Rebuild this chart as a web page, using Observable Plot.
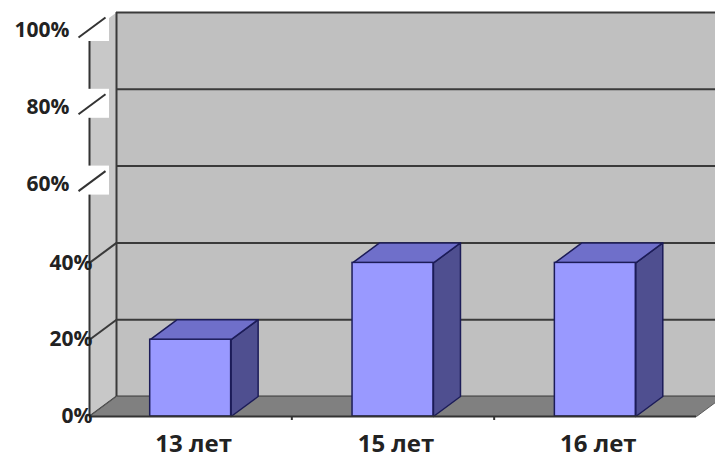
<!DOCTYPE html>
<html>
<head>
<meta charset="utf-8">
<script src="https://cdn.jsdelivr.net/npm/d3@7"></script>
<script src="https://cdn.jsdelivr.net/npm/@observablehq/plot@0.6"></script>
<style>
  html, body { margin: 0; padding: 0; background: #fff; }
  #chart svg { display: block; }
</style>
</head>
<body>
<div id="chart"></div>
<script>
// ---- data ----
const categories = ["13 лет", "15 лет", "16 лет"];
const values = [20, 40, 40];
const yTicks = [0, 20, 40, 60, 80, 100];
const lowerTicks = [0, 20, 40];
const upperTicks = [60, 80, 100];

// ---- layout (style constants) ----
const W = 715, H = 459;
const xRange = [89, 696], yRange = [416, 32];
const xDomain = [0, categories.length], yDomain = [0, 100];
const XU = (xRange[1] - xRange[0]) / (xDomain[1] - xDomain[0]); // px per x unit
const YU = (yRange[0] - yRange[1]) / (yDomain[1] - yDomain[0]); // px per %
const DX = 27 / XU, DY = 20 / YU; // 3D depth in data units
const barPad = 0.3;

const table = categories.map((c, i) => ({cat: c, i, value: values[i]}));

// polygons
function poly(id, pts) { return pts.concat([pts[0]]).map(([x, y]) => ({id, x, y})); }
const n = categories.length;
const sideWall = poly("side", [[0, 0], [DX, DY], [DX, 100 + DY], [0, 100]]);
const floor = poly("floor", [[0, 0], [n, 0], [n + DX, DY], [DX, DY]]);
const barSides = table.flatMap(d => {
  const x1 = d.i + 1 - barPad;
  return poly("s" + d.i, [[x1, 0], [x1 + DX, DY], [x1 + DX, d.value + DY], [x1, d.value]]);
});
const barTops = table.flatMap(d => {
  const x0 = d.i + barPad, x1 = d.i + 1 - barPad;
  return poly("t" + d.i, [[x0, d.value], [x1, d.value], [x1 + DX, d.value + DY], [x0 + DX, d.value + DY]]);
});

const gridColor = "#3a3a3a";
const edge = "#1c1c58";
const font = "'Open Sans', 'Noto Sans', sans-serif";

const chart = Plot.plot({
  width: W,
  height: H,
  margin: 0,
  x: {domain: xDomain, range: xRange, axis: null},
  y: {domain: yDomain, range: yRange, axis: null},
  style: {background: "#fff", overflow: "hidden"},
  marks: [
    // back wall
    Plot.rect([0], {x1: DX, x2: n + 2 * DX, y1: DY, y2: 100 + DY, fill: "#c0c0c0"}),
    Plot.ruleY(yTicks, {y: d => d + DY, x1: DX, x2: n + 2 * DX, stroke: gridColor, strokeWidth: 2}),
    // left side wall
    Plot.line(sideWall, {x: "x", y: "y", z: "id", fill: "#c8c8c8", stroke: "none"}),
    Plot.link(lowerTicks, {x1: 0, y1: d => d, x2: DX, y2: d => d + DY, stroke: gridColor, strokeWidth: 2}),
    Plot.ruleX([DX], {y1: DY, y2: 100 + DY, stroke: gridColor, strokeWidth: 2}),
    // floor
    Plot.line(floor, {x: "x", y: "y", z: "id", fill: "#808080", stroke: "#5a5a5a", strokeWidth: 1}),
    // bars
    Plot.line(barSides, {x: "x", y: "y", z: "id", fill: "#4f4f90", stroke: edge, strokeWidth: 1.5}),
    Plot.line(barTops, {x: "x", y: "y", z: "id", fill: "#6f6fca", stroke: edge, strokeWidth: 1.5}),
    Plot.rect(table, {x1: d => d.i + barPad, x2: d => d.i + 1 - barPad, y1: 0, y2: "value",
      fill: "#9999ff", stroke: edge, strokeWidth: 1.5}),
    // front axis + floor edge
    Plot.ruleY([0], {x1: 0, x2: n, stroke: "#333", strokeWidth: 2}),
    Plot.ruleX([0], {y1: 0, y2: 100, stroke: "#333", strokeWidth: 2}),
    Plot.ruleX(d3.range(1, n), {y1: 0, y2: -4 / YU, stroke: "#333", strokeWidth: 2}),
    // white patches and slashes for upper tick labels
    Plot.rect(upperTicks, {x1: -14 / XU, x2: 20 / XU, y1: d => d - 9 / YU, y2: d => d + 20 / YU, fill: "#fff"}),
    Plot.link(upperTicks, {x1: 0, y1: d => d, x2: DX, y2: d => d + DY, dx: -11, dy: 5,
      stroke: "#333", strokeWidth: 2}),
    // y labels
    Plot.text(lowerTicks, {x: 0, y: d => d, text: d => d + "%", textAnchor: "end", dx: 3,
      fontSize: 21, fontWeight: "bold", fontFamily: font, fill: "#222"}),
    Plot.text(upperTicks, {x: 0, y: d => d, text: d => d + "%", textAnchor: "end", dx: -20, dy: -2,
      fontSize: 21, fontWeight: "bold", fontFamily: font, fill: "#222"}),
    // category labels
    Plot.text(table, {x: d => d.i + 0.5, y: 0, text: "cat", dx: 3, dy: 28,
      fontSize: 24, fontWeight: "bold", fontFamily: font, fill: "#222"})
  ]
});
document.getElementById("chart").appendChild(chart);
</script>
</body>
</html>
